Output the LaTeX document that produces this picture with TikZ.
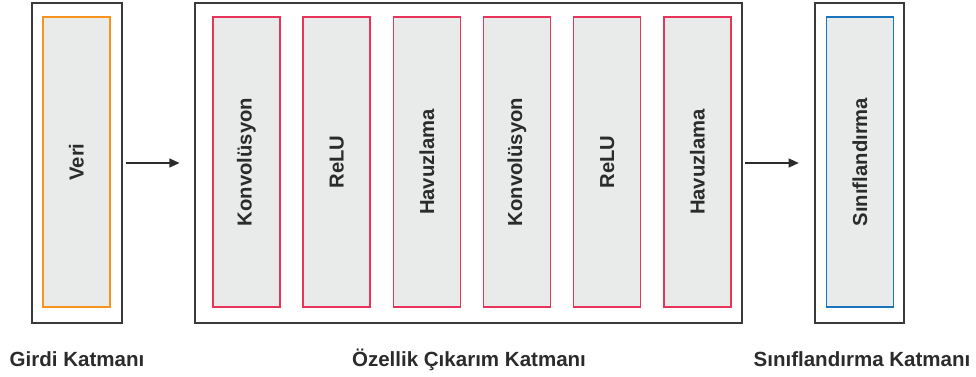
\documentclass[tikz,border=0pt]{standalone}
\usepackage{fontspec}
\setmainfont{Liberation Sans}
\usepackage{tikz}
\usetikzlibrary{arrows.meta, positioning}
\definecolor{boxline}{HTML}{3A3A3A}
\definecolor{blockfill}{HTML}{E9EAEA}
\definecolor{inorange}{HTML}{F7941E}
\definecolor{featred}{HTML}{E8335A}
\definecolor{clsblue}{HTML}{1B75BC}
\definecolor{txt}{HTML}{2B2B2B}
\tikzset{
>={Triangle[length=0.26cm, width=0.22cm]}, % solid arrow heads
node distance=0.54cm, % gap between the blocks
layer/.style={draw=boxline, line width=1.8pt, minimum height=8cm}, % outer layer frame
block/.style={fill=blockfill, line width=1.1pt, minimum width=1.675cm, minimum height=7.25cm, inner sep=0pt,
  font=\fontsize{14.4pt}{17pt}\selectfont\bfseries, text=txt}, % inner block, text turned upwards
caption/.style={font=\fontsize{14.6pt}{17pt}\selectfont\bfseries, text=txt, anchor=base}, % name under a layer
flow/.style={->, draw=txt, line width=1.4pt}, % arrow between layers
}
\newcommand{\up}[1]{\rotatebox{90}{#1}}

\begin{document}
\begin{tikzpicture}[x=0.025cm, y=-0.025cm]
  \useasboundingbox (0,0) rectangle (976,376);

  % the three layers
  \node[layer, minimum width=2.25cm] (in) at (77,163) {};
  \node[layer, minimum width=13.675cm] (feat) at (468.5,163) {};
  \node[layer, minimum width=2.225cm] (cls) at (859.5,163) {};

  % blocks inside the layers
  \node[block, draw=inorange] (veri) at (76.5,162) {\up{Veri}};
  \node[block, draw=featred] (conv1) at (246.5,162) {\up{Konvolüsyon}};
  \node[block, draw=featred, right=of conv1] (relu1) {\up{ReLU}};
  \node[block, draw=featred, right=of relu1] (pool1) {\up{Havuzlama}};
  \node[block, draw=featred, right=of pool1] (conv2) {\up{Konvolüsyon}};
  \node[block, draw=featred, right=of conv2] (relu2) {\up{ReLU}};
  \node[block, draw=featred, right=of relu2] (pool2) {\up{Havuzlama}};
  \node[block, draw=clsblue] (sinif) at (860,162) {\up{Sınıflandırma}};

  % arrows
  \draw[flow, shorten <=2pt, shorten >=0.35cm] (in) -- (feat);
  \draw[flow, shorten <=1pt, shorten >=0.37cm] (feat) -- (cls);

  % captions
  \node[caption] (incap) at (77,366.5) {Girdi Katmanı};
  \node[caption] (featcap) at (469,366.5) {Özellik Çıkarım Katmanı};
  \node[caption] (clscap) at (862,366.5) {Sınıflandırma Katmanı};
\end{tikzpicture}
\end{document}
